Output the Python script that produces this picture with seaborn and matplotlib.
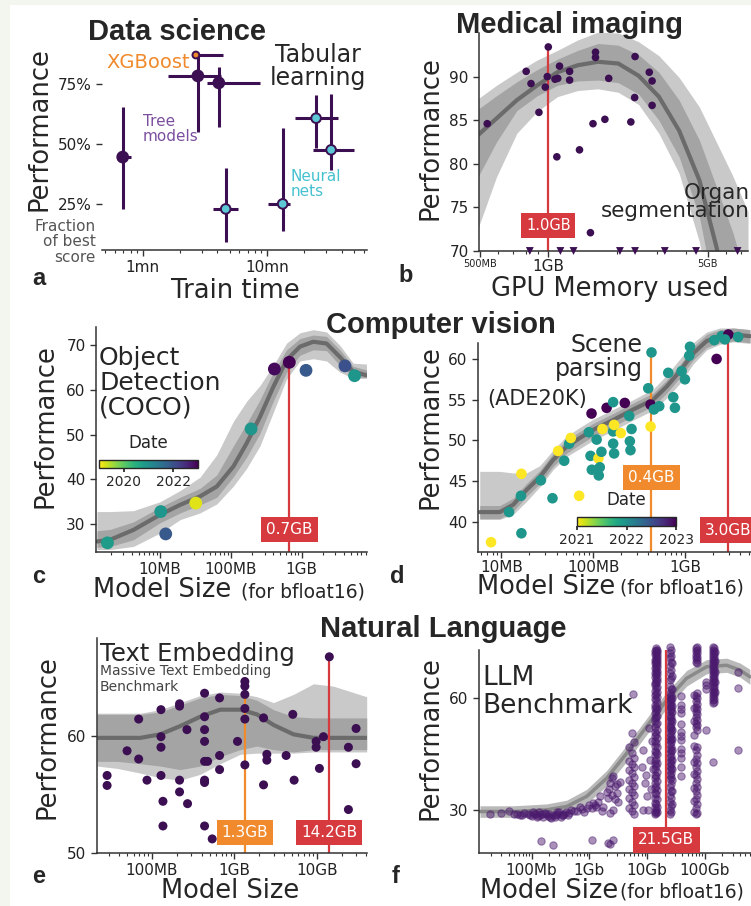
import numpy as np
import pandas as pd
import matplotlib
matplotlib.use("Agg")
import matplotlib.pyplot as plt
import seaborn as sns
from matplotlib.patches import Rectangle
from matplotlib.ticker import NullFormatter
from matplotlib.cm import ScalarMappable
from matplotlib.colors import Normalize

# ---------------- a: tabular learning (train time in minutes, % of best score)
tab_models = ["tree", "xgb", "tree", "tree", "nn", "nn", "nn", "nn"]
tab_time = [0.69, 2.68, 2.78, 4.1, 4.66, 13.4, 24.9, 32.9]
tab_time_lo = [0.63, 2.48, 1.6, 3.3, 3.67, 10.2, 16.8, 23.5]
tab_time_hi = [0.81, 4.4, 4.3, 8.8, 5.8, 15.3, 37.3, 50.0]
tab_perf = [44.5, 87.0, 78.3, 75.4, 22.9, 25.0, 60.7, 47.5]
tab_perf_lo = [22.9, 87.0, 55.0, 57.0, 9.2, 13.8, 48.3, 39.2]
tab_perf_hi = [65.4, 87.0, 87.0, 82.0, 40.0, 56.6, 70.4, 70.8]

# ---------------- b: organ segmentation (GPU memory in GB)
organ_gb = [0.54, 0.80, 0.84, 0.91, 0.97, 0.99, 1.0, 1.07, 1.10, 1.09, 1.12, 1.24, 1.24,
            1.37, 1.53, 1.57, 1.61, 1.61, 1.77, 1.84, 2.30, 2.40, 2.39, 2.77, 2.85, 2.85]
organ_perf = [84.6, 90.6, 89.2, 85.9, 88.8, 90.0, 93.4, 89.7, 89.8, 80.8, 91.2, 90.6, 89.6,
              81.6, 72.1, 84.6, 92.8, 92.2, 85.1, 89.8, 84.8, 92.3, 87.6, 90.5, 89.5, 86.7]
organ_below_gb = [0.83, 1.13, 1.29, 2.06, 2.40, 3.24, 4.44, 6.75]   # scores below 70
organ_fit_gb = [0.483, 0.593, 0.728, 0.894, 1.096, 1.345, 1.651, 2.026, 2.487, 3.051, 3.744, 4.595, 5.45, 6.46, 7.5]
organ_fit = [83.1, 85.2, 87.3, 89.0, 90.5, 91.3, 91.7, 91.5, 90.1, 87.7, 83.8, 78.1, 70.5, 62.0, 52.0]
organ_out_hi = [87.3, 89.0, 90.5, 91.9, 93.0, 94.2, 95.1, 95.0, 94.0, 92.4, 89.9, 86.5, 82.5, 78.5, 74.5]
organ_out_lo = [72.0, 78.5, 83.5, 86.0, 87.7, 88.4, 88.6, 88.2, 86.8, 83.5, 78.9, 71.0, 61.0, 50.0, 40.0]
organ_in_hi = [86.1, 87.8, 89.4, 90.8, 92.0, 93.0, 93.8, 93.6, 92.5, 90.5, 87.3, 82.7, 77.4, 72.0, 66.0]
organ_in_lo = [78.1, 82.5, 86.1, 87.8, 89.0, 89.5, 89.6, 89.3, 88.0, 85.0, 80.8, 73.9, 64.0, 55.0, 45.0]

# ---------------- c: object detection COCO (model size in MB)
coco_mb = [1.8, 10.2, 12.0, 31.9, 193, 412, 670, 1154, 4100, 5600]
coco_perf = [25.8, 32.8, 27.8, 34.7, 51.3, 64.7, 66.2, 64.4, 65.4, 63.2]
coco_date = [2020.8, 2020.9, 2021.9, 2019.2, 2020.9, 2022.9, 2023.0, 2021.9, 2022.0, 2020.9]
coco_fit_mb = [1.28, 1.97, 4.2, 10, 19.2, 36.7, 63.2, 108.6, 167.5, 258, 398, 614, 947, 1460, 2252, 3473, 5356, 8260]
coco_fit = [26.1, 26.5, 28.7, 32.1, 34.3, 36.2, 38.4, 42.9, 48.1, 54.0, 60.7, 66.7, 69.7, 70.8, 70.4, 67.4, 64.1, 63.3]
coco_out_hi = [32.8, 32.8, 33.0, 35.0, 37.5, 40.5, 45.5, 53.0, 57.5, 61.0, 65.5, 70.5, 72.8, 73.5, 73.0, 70.0, 66.0, 65.8]
coco_out_lo = [24.3, 24.3, 25.0, 28.0, 31.0, 32.5, 34.5, 38.5, 42.5, 47.5, 55.0, 62.5, 66.5, 67.0, 66.5, 64.0, 62.6, 62.6]
coco_in_hi = [28.5, 28.8, 30.5, 33.8, 36.0, 38.0, 41.0, 47.5, 52.5, 57.8, 64.0, 69.0, 71.5, 72.3, 72.0, 69.0, 65.3, 64.5]
coco_in_lo = [24.8, 25.0, 26.5, 30.3, 32.5, 34.3, 36.0, 40.6, 45.0, 50.3, 57.5, 64.0, 67.8, 69.0, 68.8, 65.5, 63.0, 62.8]

# ---------------- d: scene parsing ADE20K (model size in MB)
ade_mb = [7.7, 12.1, 16.5, 16.3, 16.5, 26.9, 36.0, 41.5, 48.3, 54.7, 57.0, 70.3, 89.7, 95.9, 93.5,
          96.6, 109, 114, 115, 118, 126, 123, 140, 165, 165, 165, 169, 169, 200, 221, 247, 262,
          251, 255, 398, 432, 422, 459, 525, 422, 658, 746, 778, 920, 1000, 1135, 1114, 2213,
          2089, 2512, 2972, 2729, 3802]
ade_perf = [37.5, 41.2, 38.6, 43.2, 45.9, 45.1, 42.9, 48.7, 47.5, 49.6, 50.3, 43.2, 51.0, 53.3, 48.1,
            46.4, 50.1, 47.8, 45.7, 46.7, 51.4, 48.6, 54.0, 54.7, 51.1, 49.6, 48.4, 51.9, 50.9, 54.6,
            53.0, 51.4, 49.9, 48.8, 56.4, 60.8, 54.4, 53.8, 54.2, 51.7, 58.3, 55.3, 54.0, 58.5, 57.5,
            61.5, 60.4, 60.0, 62.3, 62.8, 63.0, 62.4, 62.7]
ade_date = [2021.0, 2021.95, 2021.95, 2021.95, 2021.0, 2021.95, 2021.95, 2021.0, 2021.95, 2021.95,
            2021.0, 2021.0, 2021.95, 2023.0, 2021.95, 2021.95, 2021.95, 2021.0, 2021.95, 2021.95,
            2021.0, 2021.95, 2023.0, 2021.95, 2021.95, 2021.95, 2021.95, 2021.0, 2021.0, 2023.0,
            2021.95, 2021.95, 2021.95, 2021.95, 2021.95, 2021.95, 2023.0, 2021.95, 2021.95, 2021.0,
            2021.95, 2021.95, 2021.95, 2021.95, 2021.95, 2021.95, 2021.95, 2023.0, 2021.95, 2021.95,
            2023.0, 2021.95, 2021.95]
ade_fit_mb = [5.8, 9.6, 13.4, 18.7, 26.2, 36.5, 51, 71.6, 100, 165, 273, 451, 631, 881, 1233, 1722, 2409, 3366, 5117]
ade_fit = [41.2, 41.2, 42.1, 43.9, 45.5, 47.6, 49.2, 50.3, 51.3, 52.5, 53.8, 55.0, 56.6, 58.5, 60.7, 62.2, 62.8, 63.0, 62.8]
ade_out_hi = [46.2, 46.2, 46.0, 46.0, 46.9, 48.8, 50.5, 51.6, 52.6, 53.8, 55.0, 56.3, 58.0, 60.0, 62.0, 63.3, 63.8, 63.8, 63.6]
ade_out_lo = [40.3, 40.3, 40.9, 42.5, 44.3, 46.4, 48.0, 49.0, 50.0, 51.2, 52.5, 53.7, 55.2, 57.0, 59.4, 61.1, 61.8, 62.1, 61.9]
ade_in_hi = [42.0, 42.0, 42.9, 44.7, 46.3, 48.4, 50.0, 51.1, 52.1, 53.3, 54.6, 55.8, 57.4, 59.3, 61.5, 63.0, 63.6, 63.8, 63.6]
ade_in_lo = [40.4, 40.4, 41.3, 43.1, 44.7, 46.8, 48.4, 49.5, 50.5, 51.7, 53.0, 54.2, 55.8, 57.7, 59.9, 61.4, 62.0, 62.2, 62.0]

# ---------------- e: text embedding MTEB (model size in MB)
mteb_mb = [28.5, 28.5, 49.8, 68.9, 68.9, 86.9, 128.5, 128.5, 128.5, 128.5, 135.8, 135.8, 216, 216,
           216, 216, 265.5, 270, 434.5, 434.5, 434.5, 434.5, 434.5, 434.5, 434.5, 434.5, 473, 538,
           661, 661, 661, 1091, 1340, 1340, 1340, 1340, 1340, 1340, 2259, 2477, 2477, 2259, 4246,
           5117, 5309, 9817, 9817, 10765, 12050, 14200, 24210, 24210, 29990, 29990]
mteb_perf = [56.6, 55.75, 58.7, 61.4, 58.0, 56.2, 62.2, 59.9, 59.0, 56.6, 54.4, 52.3, 62.7, 62.5,
             56.2, 55.2, 60.5, 54.2, 63.6, 61.6, 60.5, 59.5, 57.8, 56.2, 56.0, 52.3, 57.8, 51.2,
             63.2, 58.3, 57.1, 59.5, 64.6, 64.2, 63.5, 62.3, 61.4, 57.5, 61.5, 58.4, 57.9, 55.8, 58.3,
             61.8, 56.2, 59.5, 59.0, 57.2, 59.9, 66.7, 59.0, 53.7, 60.6, 57.6]
mteb_fit_mb = [21.5, 37.7, 72.3, 126, 220, 385, 673, 1177, 1875, 2985, 5212, 9120, 15930, 40360]
mteb_fit = [59.8, 59.8, 59.8, 60.1, 60.8, 61.6, 62.2, 62.2, 61.8, 60.9, 60.1, 59.8, 59.8, 59.8]
mteb_out_hi = [61.9, 61.9, 61.9, 62.2, 62.8, 63.4, 63.7, 63.6, 63.3, 62.8, 63.5, 64.4, 64.2, 63.3]
mteb_out_lo = [57.4, 57.2, 56.8, 56.4, 56.2, 56.7, 57.6, 58.4, 58.5, 58.5, 58.5, 58.6, 58.6, 58.6]
mteb_in_hi = [61.8, 61.8, 61.8, 62.0, 62.6, 63.2, 63.5, 63.4, 63.0, 62.2, 61.6, 61.5, 61.5, 61.5]
mteb_in_lo = [57.8, 57.8, 57.6, 57.4, 57.1, 57.4, 58.2, 58.8, 59.1, 58.8, 58.6, 58.8, 58.8, 58.8]

# ---------------- f: LLM benchmark (model size in GB)
llm_small_gb = [0.019, 0.03, 0.04, 0.05, 0.055, 0.062, 0.067, 0.075, 0.085, 0.094, 0.1, 0.105, 0.11,
                0.12, 0.125, 0.13, 0.135, 0.14, 0.15, 0.16, 0.17, 0.18, 0.19, 0.2, 0.21, 0.22, 0.23,
                0.25, 0.26, 0.27, 0.28, 0.3, 0.32, 0.33, 0.35, 0.36, 0.4, 0.42, 0.45, 0.49, 0.55,
                0.6, 0.68, 0.75, 0.82, 0.9, 1.0, 1.1, 1.17, 1.3]
llm_small_perf = [28.9, 29.2, 29.6, 29.0, 28.9, 28.6, 28.7, 29.1, 28.8, 28.7, 28.4, 29.3, 28.9,
                  28.9, 28.1, 28.3, 29.5, 28.6, 28.8, 28.1, 29.2, 28.9, 28.4, 29.0, 28.2, 27.9, 28.6,
                  28.0, 28.6, 29.4, 28.9, 29.3, 28.0, 28.5, 28.7, 29.0, 29.4, 28.5, 29.1, 30.0, 29.6,
                  29.8, 30.9, 30.2, 29.5, 30.6, 31.2, 30.4, 31.8, 30.8]
llm_low_gb = [0.145, 0.23, 1.09, 2.07, 2.26, 2.59]
llm_low_perf = [21.5, 20.6, 21.9, 21.0, 20.8, 21.9]
llm_1b_gb = [1.25, 1.42, 1.52, 1.74, 1.98, 2.12, 2.26, 2.42, 2.59, 2.76, 2.95, 3.14, 2.59, 2.26,
             3.4, 1.63, 2.8, 2.2, 2.5, 3.0]
llm_1b_perf = [31.3, 32.2, 33.6, 30.9, 34.9, 33.1, 37.2, 38.5, 39.0, 36.3, 34.5, 32.2, 30.0, 29.1,
               37.6, 29.6, 32.8, 35.6, 34.0, 36.9]
llm_3b_gb = [5.6, 5.4, 6.0, 4.8, 5.4, 6.0, 4.8, 5.4, 6.0, 4.8, 5.4, 6.0, 4.8, 5.4, 6.0, 4.8, 5.4,
             6.0, 4.8, 5.4, 6.0, 4.8, 5.4, 6.0]
llm_3b_perf = [61.3, 50.6, 48.3, 46.9, 45.2, 44.0, 43.1, 42.3, 41.5, 40.6, 39.8, 38.9, 38.1, 37.3,
               36.4, 35.6, 34.8, 33.9, 33.1, 32.2, 31.4, 30.5, 29.6, 28.8]
llm_mid_gb = [8.0, 8.5, 9.1, 9.8, 10.4, 11.1, 8.5, 9.4, 11.8, 12.3, 10.8, 12.6]
llm_mid_perf = [41.6, 46.1, 37.2, 33.6, 30.0, 43.4, 30.0, 39.5, 35.5, 48.5, 52.0, 41.0]
llm_column_gb = [13.5, 14.0, 14.5, 24.5, 25.5, 26.5, 39.0, 65.0, 70.0, 72.0, 104.0, 139.0, 142.0,
                 150.0, 375.0]
llm_column_perf = [
    [72.8, 71.9, 70.4, 69.6, 68.1, 66.9, 65.8, 64.2, 63.5, 62.0, 60.8, 59.9, 58.3, 57.4, 56.1, 54.7,
     53.9, 52.2, 51.0, 49.8, 48.6, 47.1, 45.9, 44.7, 43.2, 42.4, 41.0, 39.5, 38.6, 37.1, 35.8, 34.6,
     33.2, 31.9, 30.7, 29.5, 28.8],
    [73.5, 72.9, 72.2, 71.4, 70.7, 70.1, 69.5, 68.8, 67.9, 67.1, 66.2, 65.0, 64.0, 62.8, 61.2, 59.5,
     57.8, 56.5, 55.0, 53.0, 50.5, 48.0, 45.5, 43.8, 41.8, 39.0, 36.5, 34.2, 31.5, 30.0, 29.2],
    [73.1, 72.4, 71.6, 70.9, 70.0, 69.2, 68.4, 67.3, 66.5, 65.4, 64.6, 63.1, 61.7, 60.3, 58.8, 57.0,
     55.2, 53.5, 51.4, 49.3, 47.0, 44.9, 42.6, 40.1, 37.9, 35.4, 33.0, 30.8, 29.4],
    [73.9, 72.3, 70.8, 68.6, 66.9, 64.8, 63.2, 61.5, 60.4, 59.6, 58.5, 57.7, 56.8, 55.6, 54.9, 53.8,
     52.6, 51.9, 50.7, 49.5, 48.8, 47.6, 46.4, 45.3, 44.1, 43.0, 41.8, 40.6, 39.5, 38.2, 36.1, 34.0,
     32.2, 30.1, 29.0],
    [73.0, 71.5, 69.8, 67.5, 65.5, 62.5, 60.9, 59.9, 59.0, 58.0, 57.2, 56.3, 55.1, 54.3, 53.2, 52.1,
     51.3, 50.1, 49.1, 48.2, 47.0, 45.8, 44.6, 43.5, 42.3, 41.2, 40.0, 38.8, 37.0, 35.0, 33.1, 31.0,
     29.5],
    [69.5, 66.0, 62.5, 60.1, 58.0, 56.2, 54.0, 51.5, 49.0, 46.2, 43.5, 41.0, 38.0, 35.2, 31.5],
    [60.5, 58.2, 56.0, 53.1, 51.0, 48.7, 46.3, 44.0, 41.5, 39.2, 57.1, 49.9, 45.2],
    [60.8, 57.5, 54.0, 50.2, 47.1, 43.0, 39.6, 36.0, 32.4, 29.5],
    [73.5, 72.6, 71.6, 70.8, 69.9, 60.7, 59.3, 57.8, 56.4, 54.9, 53.5, 52.2, 46.0, 43.7, 41.5, 39.4,
     37.2, 35.0, 32.8, 30.4, 29.0],
    [73.9, 73.0, 72.1, 71.2, 70.3, 69.4, 61.4, 60.0, 58.6, 57.1, 55.7, 54.2, 52.8, 51.6, 47.0, 44.8,
     42.6, 40.5, 38.3, 36.1, 34.0, 31.6, 29.1],
    [64.4, 63.5, 62.6, 51.6],
    [73.9, 73.1, 72.3, 71.5, 70.6, 69.8, 69.0, 68.1, 67.3, 66.4, 65.6, 64.7, 63.9, 63.0, 62.1, 61.3,
     60.4, 59.5, 58.7, 43.0],
    [73.5, 72.7, 71.9, 71.1, 70.2, 69.4, 68.5, 67.7, 66.8, 66.0, 65.1, 64.3, 63.4, 62.5, 61.7, 60.8,
     59.9, 59.1],
    [72.5, 70.0, 67.2, 64.5, 61.8],
    [67.2, 62.7, 46.1],
]
llm_fit_gb = [0.0128, 0.0482, 0.182, 0.404, 0.895, 1.99, 4.41, 9.77, 21.7, 48.1, 106.7, 236.6, 402.7, 598]
llm_fit = [29.55, 29.55, 30.0, 30.9, 33.6, 38.5, 45.2, 52.4, 59.5, 65.4, 68.5, 68.9, 67.6, 65.8]
llm_fit_lo = [28.0, 28.0, 28.4, 29.2, 31.7, 36.4, 43.0, 50.2, 57.3, 63.3, 66.6, 67.0, 65.7, 63.8]
llm_fit_hi = [31.1, 31.1, 31.6, 32.6, 35.5, 40.6, 47.4, 54.6, 61.7, 67.5, 70.4, 70.8, 69.5, 67.8]
llm_best_gb = 21.5

W, H = 751, 906
PURPLE = "#3b0f52"
CYAN = "#5cc8d6"
ORANGE = "#f08a2c"
RED = "#d63a3f"
BAND_OUT = "#c9c9c9"
BAND_IN = "#a4a4a4"
LINE = "#6b6b6b"

sns.set_theme(style="ticks")
plt.rcParams["font.family"] = ["DejaVu Sans"]

fig = plt.figure(figsize=(W / 100, H / 100), dpi=100)
fig.patch.set_facecolor("#f3f5ef")
fig.add_artist(Rectangle((10 / W, 0), 1 - 10 / W, 1 - 5 / H, transform=fig.transFigure,
                         facecolor="white", edgecolor="none", zorder=-10))


def px_box(l, t, r, b):
    return [l / W, 1 - b / H, (r - l) / W, (b - t) / H]


def ftext(x, y, s, **kw):
    fig.text(x / W, 1 - y / H, s, **kw)


def style(ax, xlim, ylim, xticks, xlabels, yticks, ylabels=None):
    ax.set_xscale("log")
    ax.set_xlim(*xlim)
    ax.set_ylim(*ylim)
    ax.set_xticks(xticks, xlabels)
    ax.xaxis.set_minor_formatter(NullFormatter())
    ax.set_yticks(yticks, ylabels if ylabels else [str(v) for v in yticks])
    sns.despine(ax=ax)
    for s in ("left", "bottom"):
        ax.spines[s].set_color("#333333")
        ax.spines[s].set_linewidth(1.1)
    ax.tick_params(which="major", labelsize=11, length=4, width=1, color="#333333", labelcolor="#222222")
    ax.tick_params(axis="x", which="minor", length=2.5, width=0.8, color="#333333")


def draw_trend(ax, x, mid, out_lo, out_hi, in_lo=None, in_hi=None,
               out_color=BAND_OUT, line_color=LINE, lw=3):
    ax.fill_between(x, out_lo, out_hi, color=out_color, lw=0, zorder=1)
    if in_lo is not None:
        ax.fill_between(x, in_lo, in_hi, color=BAND_IN, lw=0, zorder=1.5)
    sns.lineplot(x=x, y=mid, ax=ax, color=line_color, lw=lw, zorder=2)


def mark_best(ax, x, xs, ys, color, label, label_y, fontsize=11):
    xs = np.asarray(xs, float)
    ys = np.asarray(ys, float)
    near = np.abs(np.log10(xs) - np.log10(x)) < 0.005
    top = ys[near].max() if near.any() else ax.get_ylim()[1]
    ax.vlines(x, ax.get_ylim()[0], top, color=color, lw=1.6, zorder=2.5)
    ax.text(x, label_y, label, color="white", ha="center", va="center", fontsize=fontsize, zorder=5,
            bbox=dict(boxstyle="square,pad=0.33", fc=color, ec="none"))


# ---------------- panel a
ax = fig.add_axes(px_box(102, 31, 367, 250))
style(ax, (0.47, 64), (5.8, 97), [1, 10], ["1mn", "10mn"], [25, 50, 75], ["25%", "50%", "75%"])
ax.spines["left"].set_visible(False)
t, tl, th = np.array(tab_time), np.array(tab_time_lo), np.array(tab_time_hi)
p, pl, ph = np.array(tab_perf), np.array(tab_perf_lo), np.array(tab_perf_hi)
ax.errorbar(t, p, xerr=[t - tl, th - t], yerr=[p - pl, ph - p], fmt="none",
            ecolor=PURPLE, elinewidth=2.2, capsize=0, zorder=2)
df_a = pd.DataFrame({"time": tab_time, "perf": tab_perf, "model": tab_models})
sns.scatterplot(data=df_a, x="time", y="perf", hue="model",
                palette={"tree": PURPLE, "xgb": ORANGE, "nn": CYAN},
                size="model", sizes={"tree": 60, "xgb": 24, "nn": 48},
                edgecolor=PURPLE, linewidth=1.4, legend=False, ax=ax, zorder=3)
ax.set_xlabel("")
ax.set_ylabel("")

# ---------------- panel b
ax = fig.add_axes(px_box(479, 33, 748, 251))
style(ax, (0.497, 7.5), (70, 95), [0.5, 1, 5], ["500MB", "1GB", "5GB"], [70, 75, 80, 85, 90])
ax.tick_params(axis="x", which="major", pad=2)
for lbl, fs in zip(ax.get_xticklabels(), (7, 11, 7)):
    lbl.set_fontsize(fs)
draw_trend(ax, organ_fit_gb, organ_fit, organ_out_lo, organ_out_hi, organ_in_lo, organ_in_hi)
sns.scatterplot(x=organ_gb, y=organ_perf, color=PURPLE, s=30, edgecolor="none", ax=ax, zorder=3)
sns.scatterplot(x=organ_below_gb, y=np.full(len(organ_below_gb), ax.get_ylim()[0]), marker="v",
                color=PURPLE, s=32, edgecolor="none", ax=ax, zorder=3, clip_on=False)
mark_best(ax, 1.0, organ_gb, organ_perf, RED, "1.0GB", 72.9, fontsize=10.5)
ax.set_xlabel("")
ax.set_ylabel("")

# ---------------- panel c
ax = fig.add_axes(px_box(96, 327, 367, 552))
style(ax, (1.24, 8400), (23.75, 74.1), [10, 100, 1000], ["10MB", "100MB", "1GB"], [30, 40, 50, 60, 70])
draw_trend(ax, coco_fit_mb, coco_fit, coco_out_lo, coco_out_hi, coco_in_lo, coco_in_hi)
mark_best(ax, 670, coco_mb, coco_perf, RED, "0.7GB", 28.7)
sns.scatterplot(x=coco_mb, y=coco_perf, hue=coco_date, palette="viridis_r", hue_norm=(2019, 2023),
                s=85, edgecolor="none", legend=False, ax=ax, zorder=3)
ax.set_xlabel("")
ax.set_ylabel("")
cax = fig.add_axes(px_box(99, 460, 198, 468))
cb = fig.colorbar(ScalarMappable(norm=Normalize(2019, 2023), cmap="viridis_r"), cax=cax,
                  orientation="horizontal", ticks=[2020, 2022])
cb.ax.tick_params(labelsize=10, length=3, pad=2)
cb.outline.set_linewidth(1)

# ---------------- panel d
ax = fig.add_axes(px_box(478, 328, 751, 552))
style(ax, (5.55, 5250), (36.3, 63.8), [10, 100, 1000], ["10MB", "100MB", "1GB"], [40, 45, 50, 55, 60])
ax.tick_params(axis="x", which="major", pad=2)
ax.spines["left"].set_bounds(36.3, 62.0)
draw_trend(ax, ade_fit_mb, ade_fit, ade_out_lo, ade_out_hi, ade_in_lo, ade_in_hi)
mark_best(ax, 432, ade_mb, ade_perf, ORANGE, "0.4GB", 45.5)
mark_best(ax, 2972, ade_mb, ade_perf, RED, "3.0GB", 39.0)
sns.scatterplot(x=ade_mb, y=ade_perf, hue=ade_date, palette="viridis_r", hue_norm=(2021, 2023),
                s=58, edgecolor="none", legend=False, ax=ax, zorder=3, clip_on=False)
ax.set_xlabel("")
ax.set_ylabel("")
cax = fig.add_axes(px_box(577, 517, 676, 526))
cb = fig.colorbar(ScalarMappable(norm=Normalize(2021, 2023), cmap="viridis_r"), cax=cax,
                  orientation="horizontal", ticks=[2021, 2022, 2023])
cb.ax.tick_params(labelsize=10, length=3, pad=2)
cb.outline.set_linewidth(1)

# ---------------- panel e
ax = fig.add_axes(px_box(97, 638, 367, 853))
style(ax, (21.5, 40700), (50, 68.3), [100, 1000, 10000], ["100MB", "1GB", "10GB"], [50, 60])
draw_trend(ax, mteb_fit_mb, mteb_fit, mteb_out_lo, mteb_out_hi, mteb_in_lo, mteb_in_hi)
mark_best(ax, 1340, mteb_mb, mteb_perf, ORANGE, "1.3GB", 51.75)
mark_best(ax, 14200, mteb_mb, mteb_perf, RED, "14.2GB", 51.75)
sns.scatterplot(x=mteb_mb, y=mteb_perf, color=PURPLE, s=42, edgecolor="none", ax=ax, zorder=3)
ax.set_xlabel("")
ax.set_ylabel("")

# ---------------- panel f
ax = fig.add_axes(px_box(479, 650, 751, 853))
style(ax, (0.0123, 625), (18.4, 73), [0.1, 1, 10, 100], ["100Mb", "1Gb", "10Gb", "100Gb"], [30, 60])
draw_trend(ax, llm_fit_gb, llm_fit, llm_fit_lo, llm_fit_hi, out_color="#b9b9b9",
           line_color="#8a8a8a", lw=2.5)
llm_gb = llm_small_gb + llm_low_gb + llm_1b_gb + llm_3b_gb + llm_mid_gb
llm_perf = llm_small_perf + llm_low_perf + llm_1b_perf + llm_3b_perf + llm_mid_perf
for size, scores in zip(llm_column_gb, llm_column_perf):
    llm_gb = llm_gb + [size] * len(scores)
    llm_perf = llm_perf + scores
sns.scatterplot(x=llm_gb, y=llm_perf, color="#4b1a6e", alpha=0.48, s=28, edgecolor="#4b1a6e",
                linewidth=0.8, ax=ax, zorder=3, clip_on=False)
ax.vlines(llm_best_gb, ax.get_ylim()[0], ax.get_ylim()[1], color=RED, lw=1.6, zorder=4)
ax.text(llm_best_gb, 21.9, f"{llm_best_gb:.1f}GB", color="white", ha="center", va="center",
        fontsize=11, zorder=5, bbox=dict(boxstyle="square,pad=0.33", fc=RED, ec="none"))
ax.set_xlabel("")
ax.set_ylabel("")

# ---------------- texts
bold = dict(family="Liberation Sans", weight="bold")
ftext(177, 40, "Data science", fontsize=21, ha="center", va="baseline", **bold)
ftext(570, 33, "Medical imaging", fontsize=21, ha="center", va="baseline", **bold)
ftext(441, 333, "Computer vision", fontsize=21, ha="center", va="baseline", **bold)
ftext(443, 637, "Natural Language", fontsize=21, ha="center", va="baseline", **bold)
for letter, x, y in [("a", 32, 285), ("b", 398, 282), ("c", 32, 583), ("d", 390, 583),
                     ("e", 32, 883), ("f", 392, 883)]:
    ftext(x, y, letter, fontsize=17, va="baseline", **bold)

for x, y in [(40, 129), (430, 138), (46, 426), (431, 427), (48, 737), (431, 738)]:
    ftext(x, y, "Performance", fontsize=18.5, rotation=90, ha="center", va="center")

ftext(235, 298, "Train time", fontsize=18.5, ha="center", va="baseline")
ftext(610, 296, "GPU Memory used", fontsize=18.5, ha="center", va="baseline")
ftext(230, 898, "Model Size", fontsize=18.5, ha="center", va="baseline")
for x0, x1, y in [(93, 241, 597), (477, 620, 594), (480, 620, 898)]:
    ftext(x0, y, "Model Size", fontsize=18.5, va="baseline")
    ftext(x1, y, "(for bfloat16)", fontsize=13.5, va="baseline")

ftext(106, 62, "XGBoost", color=ORANGE, fontsize=14, va="center")
ftext(318, 66.5, "Tabular\nlearning", fontsize=17, ha="center", va="center", linespacing=1.0)
ftext(143, 129, "Tree\nmodels", color="#7b4f9e", fontsize=11, va="center", linespacing=1.05)
ftext(291, 184, "Neural\nnets", color="#45c1cf", fontsize=11, va="center", linespacing=1.05)
ftext(96, 242, "Fraction\nof best\nscore", color="#555555", fontsize=11, ha="right",
      va="center", linespacing=1.05)
ftext(750, 202, "Organ\nsegmentation", fontsize=15.5, ha="right", va="center", linespacing=0.9)
ftext(99, 383, "Object\nDetection\n(COCO)", fontsize=18, va="center", linespacing=1.05)
ftext(148, 443, "Date", fontsize=12, ha="center", va="center")
ftext(643, 357, "Scene\nparsing", fontsize=17, ha="right", va="center", linespacing=1.0)
ftext(487, 399, "(ADE20K)", fontsize=15, va="center")
ftext(626, 500, "Date", fontsize=12, ha="center", va="center")
ftext(100, 654, "Text Embedding", fontsize=17.5, va="center")
ftext(100, 679, "Massive Text Embedding\nBenchmark", fontsize=10, color="#444444", va="center",
      linespacing=1.15)
ftext(482, 692, "LLM\nBenchmark", fontsize=19, va="center", linespacing=1.1)

fig.savefig("out.png", dpi=100)
